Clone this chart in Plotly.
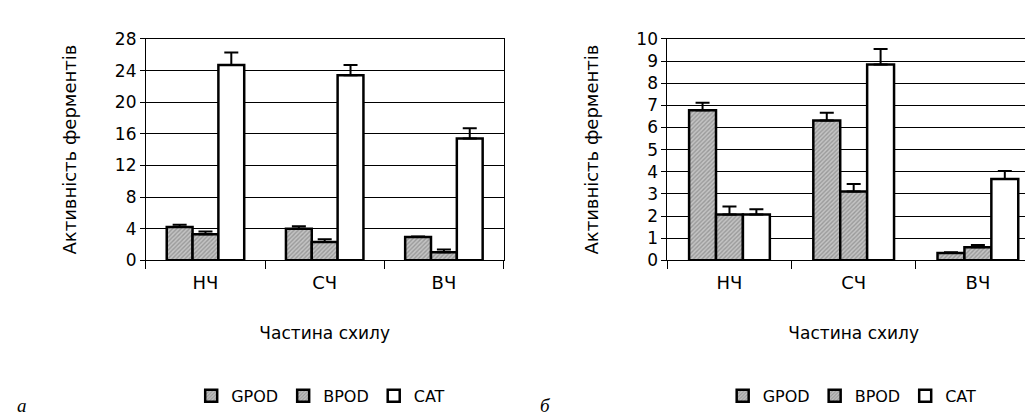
import plotly.graph_objects as go

categories = ["НЧ", "СЧ", "ВЧ"]
series_names = ["GPOD", "BPOD", "CAT"]

# Panel a
a_gpod = [4.2, 4.0, 2.95]
a_bpod = [3.3, 2.3, 1.0]
a_cat = [24.7, 23.4, 15.4]
a_gpod_err = [0.3, 0.3, 0.05]
a_bpod_err = [0.35, 0.35, 0.35]
a_cat_err = [1.6, 1.3, 1.3]

# Panel b
b_gpod = [6.78, 6.32, 0.33]
b_bpod = [2.07, 3.11, 0.59]
b_cat = [2.07, 8.84, 3.67]
b_gpod_err = [0.34, 0.34, 0.03]
b_bpod_err = [0.36, 0.34, 0.1]
b_cat_err = [0.23, 0.7, 0.36]

a_yticks = [0, 4, 8, 12, 16, 20, 24, 28]
b_yticks = [0, 1, 2, 3, 4, 5, 6, 7, 8, 9, 10]

x_title = "Частина схилу"
y_title = "Активність ферментів"
panel_labels = ["а", "б"]

FONT = "DejaVu Sans, Verdana, sans-serif"

hatch = dict(shape="/", size=3, solidity=0.45, fgcolor="#6e6e6e", bgcolor="#c4c4c4")
styles = [
    dict(color="#a8a8a8", pattern=hatch),
    dict(color="#a8a8a8", pattern=hatch),
    dict(color="white"),
]

fig = go.Figure()

def add_panel(vals, errs, xa, ya, leg):
    for name, v, e, st in zip(series_names, vals, errs, styles):
        fig.add_trace(go.Bar(
            x=categories, y=v, name=name, xaxis=xa, yaxis=ya, legend=leg,
            marker=dict(line=dict(color="black", width=2.5), **st),
            error_y=dict(type="data", array=e, arrayminus=[0] * len(e), symmetric=False,
                         color="black", thickness=2, width=7),
        ))

add_panel([a_gpod, a_bpod, a_cat], [a_gpod_err, a_bpod_err, a_cat_err], "x", "y", "legend")
add_panel([b_gpod, b_bpod, b_cat], [b_gpod_err, b_bpod_err, b_cat_err], "x2", "y2", "legend2")

W, H = 1033, 416
top_px, bot_px = 22, 254.5
ydom = [1 - bot_px / H, 1 - top_px / H]

xcommon = dict(type="category", tickson="boundaries", ticks="outside", ticklen=8, tickcolor="black",
               showline=True, linecolor="black", linewidth=1, mirror=True, showgrid=False,
               tickfont=dict(family=FONT, size=18, color="black"), ticklabelstandoff=6,
               title=dict(text=x_title, font=dict(family=FONT, size=17, color="black"), standoff=35))
ycommon = dict(ticks="outside", ticklen=5, tickcolor="black", showline=True, linecolor="black",
               linewidth=1, mirror=True, showgrid=True, gridcolor="black", gridwidth=1,
               zeroline=False, tickfont=dict(family=FONT, size=17, color="black"),
               title=dict(text=y_title, font=dict(family=FONT, size=18, color="black")))

legfont = dict(family=FONT, size=16, color="black")
fig.update_layout(
    width=W, height=H, margin=dict(l=0, r=0, t=0, b=0),
    paper_bgcolor="white", plot_bgcolor="white",
    barmode="group", bargap=0.35, bargroupgap=0.0,
    xaxis=dict(domain=[138 / W, 496 / W], anchor="y", **xcommon),
    yaxis=dict(domain=ydom, anchor="x", range=[0, 28], tickvals=a_yticks, **ycommon),
    xaxis2=dict(domain=[660 / W, 1.0], anchor="y2", **xcommon),
    yaxis2=dict(domain=ydom, anchor="x2", range=[0, 10], tickvals=b_yticks, **ycommon),
    legend=dict(orientation="h", x=313 / W, xanchor="center", y=1 - 397 / H, yanchor="middle",
                font=legfont, itemwidth=30, tracegroupgap=0, bgcolor="rgba(0,0,0,0)"),
    legend2=dict(orientation="h", x=845 / W, xanchor="center", y=1 - 397 / H, yanchor="middle",
                 font=legfont, itemwidth=30, tracegroupgap=0, bgcolor="rgba(0,0,0,0)"),
    showlegend=True,
)
fig.update_yaxes(title_standoff=33, selector=dict(anchor="x"))
fig.update_yaxes(title_standoff=33, selector=dict(anchor="x2"))

for txt, xp in zip(panel_labels, [14, 538]):
    fig.add_annotation(text=txt, x=xp / W, y=0, xref="paper", yref="paper",
                       showarrow=False, xanchor="center", yanchor="bottom", yshift=-4,
                       font=dict(family="Liberation Serif, Times New Roman, serif", size=19,
                                 color="black", style="italic"))

fig.write_html("out.html")
